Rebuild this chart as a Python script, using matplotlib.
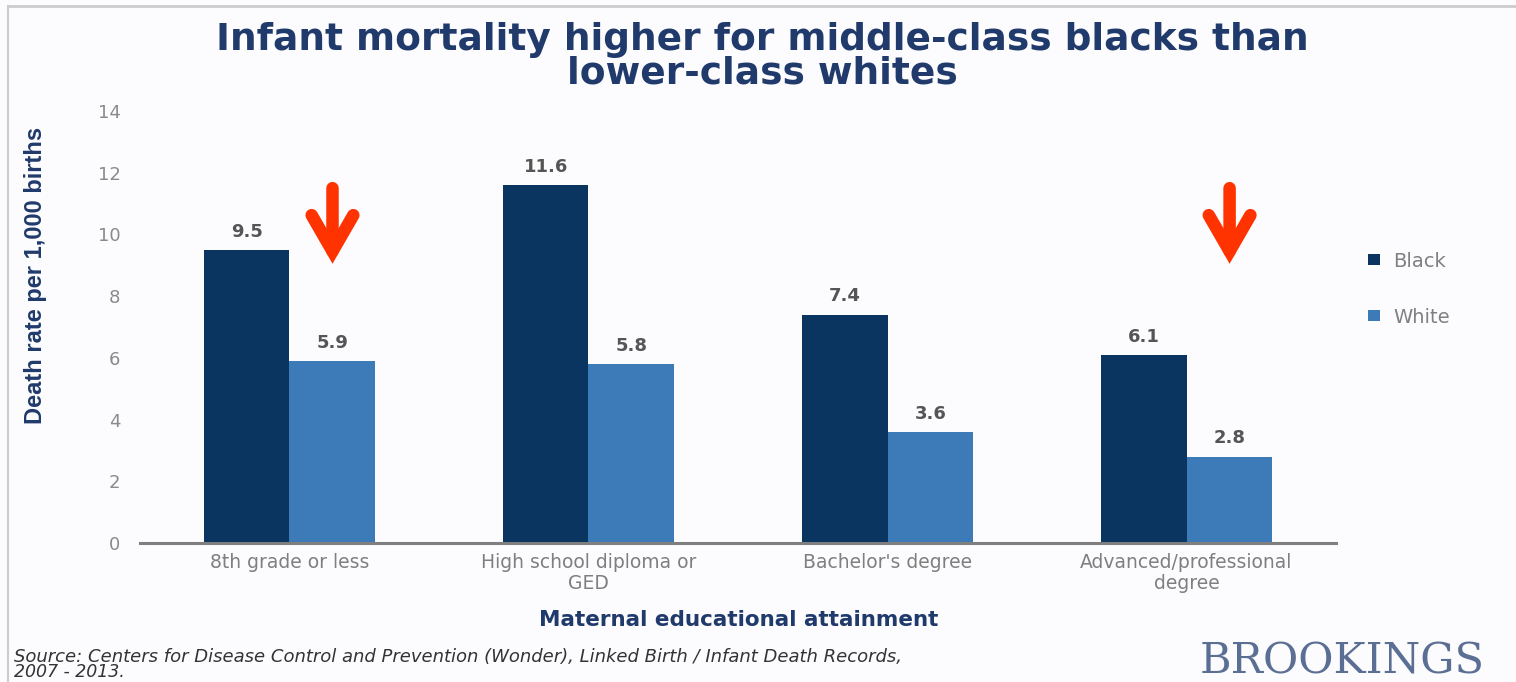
import matplotlib
matplotlib.use("Agg")
import matplotlib.pyplot as plt
import numpy as np

categories = ["8th grade or less", "High school diploma or\nGED", "Bachelor's degree", "Advanced/professional\ndegree"]
black_vals = [9.5, 11.6, 7.4, 6.1]
white_vals = [5.9, 5.8, 3.6, 2.8]
series_names = ["Black", "White"]
yticks = [0, 2, 4, 6, 8, 10, 12, 14]
arrow_cats = [0, 3]
title_lines = ["Infant mortality higher for middle-class blacks than", "lower-class whites"]
source_lines = ["Source: Centers for Disease Control and Prevention (Wonder), Linked Birth / Infant Death Records,",
                "2007 - 2013."]

C_BLACK = '#0a3561'
C_WHITE = '#3d7ab8'
NAVY = '#1f3a6b'
BG = '#fcfbfd'
SANS = 'DejaVu Sans'

fig = plt.figure(figsize=(15.16, 6.82), dpi=100, facecolor=BG)
ax = fig.add_axes([0.0923, 0.2038, 0.789, 0.6334])
ax.set_facecolor(BG)

x = np.arange(len(categories))
w = 0.286
b1 = ax.bar(x - w/2, black_vals, w, color=C_BLACK, label=series_names[0])
b2 = ax.bar(x + w/2, white_vals, w, color=C_WHITE, label=series_names[1])

for bars, vals in ((b1, black_vals), (b2, white_vals)):
    for r, v in zip(bars, vals):
        ax.text(r.get_x() + r.get_width()/2, v + 0.3, f"{v:.1f}", ha='center', va='bottom',
                fontsize=13, color='#555555', family=SANS, fontweight='bold')

ax.set_xlim(-0.5, 3.5)
ax.set_ylim(0, 14)
ax.set_yticks(yticks)
ax.set_yticklabels([str(t) for t in yticks], fontsize=13, color='#8a8a8a', family=SANS)
ax.set_xticks(x)
ax.set_xticklabels(categories, fontsize=13.5, color='#7f7f7f', family=SANS, linespacing=1.15)
ax.tick_params(axis='both', length=0)
ax.tick_params(axis='y', pad=14)
ax.tick_params(axis='x', pad=7)
for s in ('top', 'right', 'left'):
    ax.spines[s].set_visible(False)
ax.spines['bottom'].set_color('#7f7f7f')
ax.spines['bottom'].set_linewidth(2.2)

ax.set_ylabel("Death rate per 1,000 births", fontsize=17, color=NAVY, family='Liberation Sans',
              fontweight='bold')
ax.yaxis.set_label_coords(-0.0775, 0.62)

# red arrows
for c in arrow_cats:
    xa = c + 0.144
    ax.annotate('', xy=(xa, 9.05), xytext=(xa, 11.5),
                arrowprops=dict(arrowstyle='->,head_length=2.6,head_width=1.5', lw=9,
                                color='#ff3300', shrinkA=0, shrinkB=0, capstyle='round',
                                joinstyle='miter'))

# legend
leg = ax.legend(loc='upper left', bbox_to_anchor=(1.012, 0.715), frameon=False,
                handlelength=0.6, handleheight=0.45, labelspacing=1.9, handletextpad=0.7,
                prop={'family': SANS, 'size': 14})
for t in leg.get_texts():
    t.set_color('#808080')

# title
fig.text(0.503, 1 - 40/682, title_lines[0], ha='center', va='center', fontsize=27,
         fontweight='bold', color=NAVY, family=SANS)
fig.text(0.503, 1 - 73/682, title_lines[1], ha='center', va='center', fontsize=27,
         fontweight='bold', color=NAVY, family=SANS)

fig.text(0.487, 1 - 620/682, "Maternal educational attainment", ha='center', va='center',
         fontsize=15.5, fontweight='bold', color=NAVY, family=SANS)

fig.text(0.009, 1 - 657/682, source_lines[0], ha='left', va='center', fontsize=13,
         style='italic', color='#333333', family=SANS)
fig.text(0.009, 1 - 672/682, source_lines[1], ha='left', va='center', fontsize=12.5,
         style='italic', color='#333333', family=SANS)

fig.text(1200/1516, 1 - 662/682, "BROOKINGS", ha='left', va='center', fontsize=31, color='#5b6f94',
         family='DejaVu Serif')

# frame lines
fig.add_artist(plt.Line2D([0.005, 1.0], [0.991, 0.991], transform=fig.transFigure, color='#cccccc', lw=2))
fig.add_artist(plt.Line2D([0.0055, 0.0055], [0.0, 0.991], transform=fig.transFigure, color='#cccccc', lw=1.5))

fig.savefig("out.png", dpi=100, facecolor=BG)
